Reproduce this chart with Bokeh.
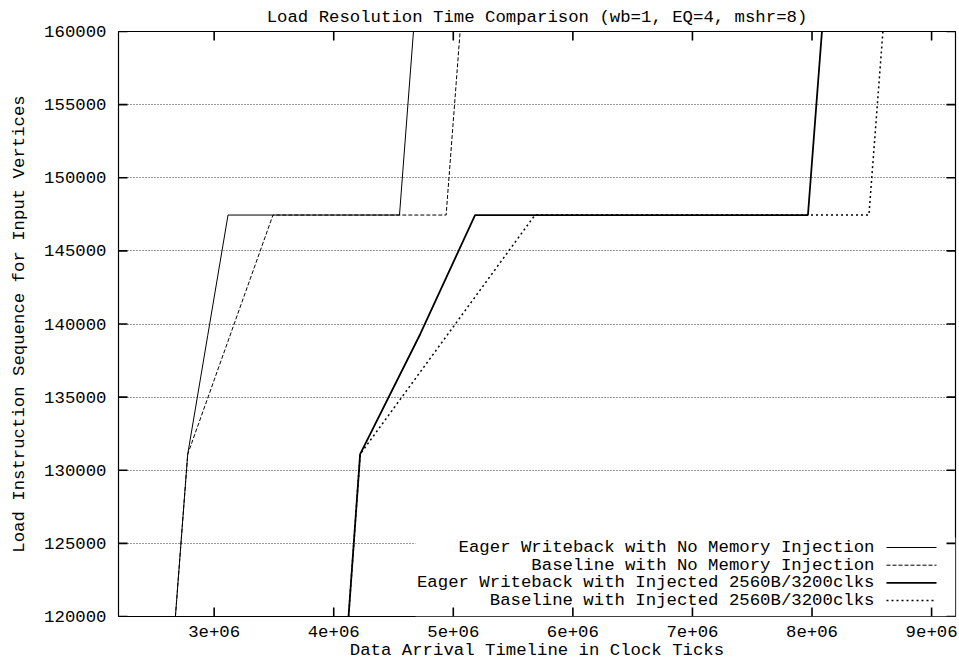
from bokeh.plotting import figure
from bokeh.models import FixedTicker, Range1d, BoxAnnotation, Label
from bokeh.embed import file_html
from bokeh.resources import INLINE

# ---- data -----------------------------------------------------------------
series_names = [
    "Eager Writeback with No Memory Injection",
    "Baseline with No Memory Injection",
    "Eager Writeback with Injected 2560B/3200clks",
    "Baseline with Injected 2560B/3200clks",
]

eager_noinj_x = [2676000, 2779000, 2946000, 3116000, 4550000, 4667000]
eager_noinj_y = [120000, 131100, 139200, 147450, 147450, 160000]

base_noinj_x = [2676000, 2779000, 3492000, 4940000, 5057000]
base_noinj_y = [120000, 131100, 147450, 147450, 160000]

eager_inj_x = [4124000, 4221000, 4723000, 5182000, 7966000, 8083000]
eager_inj_y = [120000, 131100, 139300, 147450, 147450, 160000]

base_inj_x = [4124000, 4221000, 5683000, 8476000, 8593000]
base_inj_y = [120000, 131100, 147450, 147450, 160000]

x_ticks = [3000000, 4000000, 5000000, 6000000, 7000000, 8000000, 9000000]
x_tick_labels = ["3e+06", "4e+06", "5e+06", "6e+06", "7e+06", "8e+06", "9e+06"]
y_ticks = [120000, 125000, 130000, 135000, 140000, 145000, 150000, 155000, 160000]
y_tick_labels = ["120000", "125000", "130000", "135000", "140000",
                 "145000", "150000", "155000", "160000"]

# ---- layout constants -----------------------------------------------------
X0, X1 = 2200000, 9200000
Y0, Y1 = 120000, 160000
W, H = 959, 662
FRAME_LEFT, FRAME_TOP = 118, 31
FRAME_RIGHT, FRAME_BOTTOM = 955, 616
FRAME_W = FRAME_RIGHT - FRAME_LEFT
FRAME_H = FRAME_BOTTOM - FRAME_TOP
TICK_LEN = 9     # inward tick length in pixels
TICK_W = 1.6     # tick thickness in pixels

FONT = "Liberation Mono"
FS = "13pt"


def px_x(px):
    return X0 + (px - FRAME_LEFT) / FRAME_W * (X1 - X0)


def px_y(py):
    return Y1 - (py - FRAME_TOP) / FRAME_H * (Y1 - Y0)


ux = (X1 - X0) / FRAME_W   # data units per pixel, x
uy = (Y1 - Y0) / FRAME_H   # data units per pixel, y

p = figure(
    width=W, height=H,
    x_range=Range1d(X0, X1), y_range=Range1d(Y0, Y1),
    output_backend="svg", toolbar_location=None,
    min_border_left=FRAME_LEFT, min_border_right=W - FRAME_RIGHT,
    min_border_top=FRAME_TOP, min_border_bottom=H - FRAME_BOTTOM,
    background_fill_color="white", border_fill_color="white",
)

p.title.text = "Load Resolution Time Comparison (wb=1, EQ=4, mshr=8)"
p.title.text_font = FONT
p.title.text_font_size = FS
p.title.text_font_style = "normal"
p.title.text_color = "black"
p.title.align = "center"
p.title.standoff = 10

p.outline_line_color = "black"
p.outline_line_width = 1.2
p.outline_line_alpha = 1

# grid: dotted horizontal lines only
p.xgrid.grid_line_color = None
p.ygrid.ticker = FixedTicker(ticks=y_ticks)
p.ygrid.grid_line_color = "#333333"
p.ygrid.grid_line_dash = "1 2"
p.ygrid.grid_line_width = 1


def style_axis(ax, ticks, labels):
    ax.ticker = FixedTicker(ticks=ticks)
    ax.major_label_overrides = {t: s for t, s in zip(ticks, labels)}
    ax.axis_line_color = None
    ax.major_tick_line_color = None
    ax.major_tick_in = 0
    ax.major_tick_out = 0
    ax.minor_tick_line_color = None
    ax.major_label_text_font = FONT
    ax.major_label_text_font_size = FS
    ax.major_label_text_color = "black"
    ax.axis_label_text_font = FONT
    ax.axis_label_text_font_size = FS
    ax.axis_label_text_font_style = "normal"
    ax.axis_label_text_color = "black"


xb = p.xaxis[0]
style_axis(xb, x_ticks, x_tick_labels)
xb.axis_label = "Data Arrival Timeline in Clock Ticks"
xb.major_label_standoff = 9
xb.axis_label_standoff = 1

yl = p.yaxis[0]
style_axis(yl, y_ticks, y_tick_labels)
yl.axis_label = "Load Instruction Sequence for Input Vertices"
yl.major_label_standoff = 12
yl.axis_label_standoff = 12

# ---- curves ---------------------------------------------------------------
styles = [
    dict(line_width=1.0, line_dash="solid"),
    dict(line_width=1.0, line_dash="4 2"),
    dict(line_width=1.8, line_dash="solid"),
    dict(line_width=1.5, line_dash="2 3"),
]
curves = [
    (eager_noinj_x, eager_noinj_y),
    (base_noinj_x, base_noinj_y),
    (eager_inj_x, eager_inj_y),
    (base_inj_x, base_inj_y),
]
for (xs, ys), st in zip(curves, styles):
    p.line(xs, ys, line_color="black", **st)

# ---- key (labels right-aligned, sample line on the right) ----------------
key_box = BoxAnnotation(
    left=px_x(415), right=X1, bottom=Y0, top=px_y(537),
    fill_color="white", fill_alpha=1.0, line_color=None, level="underlay",
)
p.add_layout(key_box)

row_y0, row_step = 547, 17.7
for i, (name, st) in enumerate(zip(series_names, styles)):
    ry = px_y(row_y0 + i * row_step)
    p.add_layout(Label(
        x=px_x(874), y=ry, text=name,
        text_align="right", text_baseline="middle",
        text_font=FONT, text_font_size=FS, text_color="black",
    ))
    p.line([px_x(886), px_x(936)], [ry, ry], line_color="black", **st)

# ---- inward tick marks on all four sides, as thin filled bars --------------
hw_x = TICK_W / 2 * ux
hw_y = TICK_W / 2 * uy
q_left, q_right, q_bottom, q_top = [], [], [], []
for t in x_ticks:
    for b, tp in ((Y0, Y0 + TICK_LEN * uy), (Y1 - TICK_LEN * uy, Y1)):
        q_left.append(t - hw_x)
        q_right.append(t + hw_x)
        q_bottom.append(b)
        q_top.append(tp)
for v in y_ticks:
    for l, r in ((X0, X0 + TICK_LEN * ux), (X1 - TICK_LEN * ux, X1)):
        q_left.append(l)
        q_right.append(r)
        q_bottom.append(v - hw_y)
        q_top.append(v + hw_y)
p.quad(left=q_left, right=q_right, bottom=q_bottom, top=q_top,
       fill_color="black", line_color=None)

open("out.html", "w").write(file_html(p, INLINE))
